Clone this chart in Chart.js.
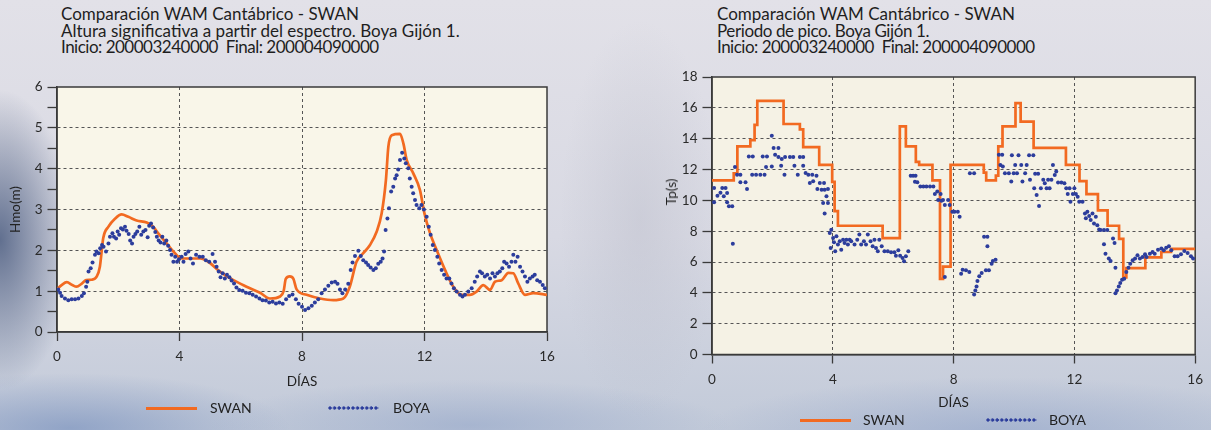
<!DOCTYPE html>
<html>
<head>
<meta charset="utf-8">
<script src="https://cdn.jsdelivr.net/npm/chart.js@4.4.1/dist/chart.umd.min.js"></script>
<style>
html,body{margin:0;padding:0;}
body{width:1211px;height:430px;overflow:hidden;position:relative;font-family:Lato,"Open Sans",sans-serif;color:#1c1c1c;
background:
 radial-gradient(75px 150px at 0px 240px, rgba(84,100,134,0.9), rgba(84,100,134,0)),
 radial-gradient(220px 55px at 70px 428px, rgba(112,138,186,0.6), rgba(112,138,186,0)),
 radial-gradient(260px 45px at 470px 425px, rgba(140,160,198,0.5), rgba(140,160,198,0)),
 radial-gradient(300px 55px at 1000px 432px, rgba(135,156,198,0.5), rgba(135,156,198,0)),
 radial-gradient(80px 200px at 640px 220px, rgba(180,182,196,0.35), rgba(180,182,196,0)),
 linear-gradient(to bottom, #e2e1e8 0%, #d8d9e3 55%, #c2cad9 100%);}
.title{position:absolute;font-size:17px;line-height:16.5px;white-space:nowrap;color:#1e1e1e;}
.title .l3{letter-spacing:-0.5px;}
.title .l2r{letter-spacing:-0.4px;}
canvas{position:absolute;}
.leg{position:absolute;font-size:14px;line-height:16px;color:#222;white-space:nowrap;}
.lline{position:absolute;height:3px;background:#f26a21;}
.ldots{position:absolute;height:4px;background-image:radial-gradient(circle at 2px 2px,#2c3d9c 1.4px,rgba(44,61,156,0) 1.9px);background-size:4.6px 4px;background-repeat:repeat-x;}
.ytitle{position:absolute;font-size:13.5px;line-height:16px;color:#222;white-space:nowrap;transform:translate(-50%,-50%) rotate(-90deg);}
</style>
</head>
<body>
<div class="title" style="left:61px;top:6px;">Comparación WAM Cantábrico - SWAN<br>Altura significativa a partir del espectro. Boya Gijón 1.<br><span class="l3">Inicio: 200003240000&nbsp;&nbsp;Final: 200004090000</span></div>
<div class="title" style="left:717px;top:6px;">Comparación WAM Cantábrico - SWAN<br><span class="l2r">Periodo de pico. Boya Gijón 1.</span><br><span class="l3">Inicio: 200003240000&nbsp;&nbsp;Final: 200004090000</span></div>

<canvas id="c1" width="600" height="330" style="left:0;top:70px;width:600px;height:330px;"></canvas>
<canvas id="c2" width="611" height="360" style="left:600px;top:60px;width:611px;height:360px;"></canvas>
<div class="ytitle" style="left:671px;top:192px;">Tp(s)</div>

<div class="lline" style="left:146px;top:407px;width:51px;"></div>
<div class="leg" style="left:210px;top:400px;">SWAN</div>
<div class="ldots" style="left:328px;top:406px;width:51px;"></div>
<div class="leg" style="left:393px;top:400px;">BOYA</div>

<div class="lline" style="left:800px;top:419px;width:51px;"></div>
<div class="leg" style="left:863px;top:412px;">SWAN</div>
<div class="ldots" style="left:986px;top:418px;width:51px;"></div>
<div class="leg" style="left:1049px;top:412px;">BOYA</div>

<script>
// ---------- DATA ----------
const xTicks = [0, 4, 8, 12, 16];
const hmoTicks = [0, 0.5, 1, 1.5, 2, 2.5, 3, 3.5, 4, 4.5, 5, 5.5, 6];
const tpTicks = [0, 2, 4, 6, 8, 10, 12, 14, 16, 18];

// SWAN Hmo (m)
const swanHmoDias = [0,0.15,0.32,0.5,0.64,0.8,0.95,1.13,1.3,1.4,1.51,1.68,1.9,2.11,2.33,2.6,2.93,3.14,3.3,3.58,3.8,4.07,4.34,4.67,4.94,5.32,5.76,6.19,6.63,6.95,7.28,7.4,7.47,7.6,7.72,7.82,8.15,8.59,9.02,9.35,9.56,9.78,10.0,10.22,10.44,10.6,10.74,10.82,10.93,11.2,11.31,11.42,11.63,11.85,12.0,12.18,12.4,12.67,12.94,13.21,13.48,13.7,13.92,14.14,14.3,14.52,14.74,14.9,15.06,15.28,15.55,16.0];
const swanHmo = [1.05,1.15,1.22,1.15,1.11,1.18,1.27,1.28,1.36,1.6,2.3,2.58,2.78,2.88,2.82,2.73,2.68,2.58,2.42,2.17,1.97,1.8,1.8,1.8,1.72,1.48,1.27,1.11,0.96,0.82,0.87,1.0,1.3,1.36,1.3,1.05,0.91,0.82,0.78,0.82,1.11,1.72,1.93,2.13,2.46,2.9,3.72,4.54,4.82,4.85,4.62,4.21,3.89,3.48,2.9,2.42,2.0,1.52,1.11,0.91,0.91,0.99,1.15,1.03,1.23,1.27,1.45,1.44,1.19,0.91,0.95,0.91];

// BOYA Hmo (m)
const boyaHmoDias = [0.04,0.10,0.15,0.26,0.37,0.48,0.59,0.70,0.81,0.88,0.95,0.99,1.03,1.10,1.16,1.24,1.29,1.36,1.41,1.47,1.52,1.60,1.68,1.73,1.81,1.86,1.93,1.98,2.03,2.09,2.15,2.22,2.27,2.34,2.39,2.45,2.50,2.56,2.62,2.69,2.75,2.82,2.89,2.96,3.01,3.07,3.14,3.21,3.26,3.32,3.38,3.44,3.50,3.57,3.63,3.69,3.74,3.80,3.86,3.92,3.98,4.07,4.13,4.20,4.29,4.36,4.44,4.54,4.65,4.76,4.86,4.97,5.08,5.16,5.21,5.28,5.34,5.41,5.48,5.55,5.63,5.70,5.78,5.86,5.95,6.06,6.17,6.28,6.39,6.50,6.61,6.71,6.82,6.93,7.04,7.15,7.26,7.37,7.48,7.58,7.69,7.80,7.89,8.00,8.10,8.21,8.32,8.42,8.53,8.64,8.75,8.86,8.97,9.08,9.16,9.24,9.32,9.41,9.51,9.59,9.65,9.73,9.84,9.92,10.00,10.09,10.16,10.24,10.33,10.41,10.49,10.57,10.63,10.68,10.73,10.79,10.84,10.91,10.98,11.04,11.09,11.14,11.20,11.27,11.34,11.39,11.47,11.52,11.58,11.63,11.69,11.74,11.83,11.90,11.98,12.07,12.14,12.20,12.27,12.34,12.42,12.48,12.56,12.64,12.72,12.81,12.88,12.96,13.05,13.16,13.24,13.32,13.43,13.54,13.64,13.72,13.81,13.88,13.97,14.05,14.14,14.22,14.30,14.38,14.46,14.54,14.60,14.68,14.76,14.84,14.90,14.97,15.04,15.12,15.20,15.28,15.36,15.44,15.53,15.60,15.68,15.77,15.86,15.93];
const boyaHmo = [1.04,0.96,0.88,0.82,0.78,0.80,0.80,0.82,0.88,0.95,1.11,1.23,1.48,1.56,1.70,1.89,1.97,1.93,2.05,2.13,2.09,1.97,2.17,2.33,2.42,2.33,2.29,2.46,2.38,2.54,2.51,2.58,2.48,2.40,2.24,2.17,2.33,2.40,2.46,2.58,2.38,2.46,2.50,2.32,2.60,2.66,2.56,2.45,2.33,2.24,2.19,2.33,2.17,2.24,2.11,2.01,1.89,1.72,1.84,1.72,1.78,1.84,1.72,1.91,1.97,1.80,1.68,1.89,1.84,1.84,1.76,1.72,1.91,1.72,1.60,1.48,1.34,1.44,1.31,1.40,1.34,1.26,1.19,1.09,1.03,1.01,0.96,0.95,0.91,0.87,0.82,0.78,0.77,0.72,0.74,0.70,0.72,0.69,0.80,0.88,0.92,0.80,0.69,0.62,0.54,0.58,0.64,0.72,0.80,0.95,1.04,1.13,1.21,1.23,1.18,1.04,0.95,1.04,1.18,1.52,1.70,1.86,1.99,1.86,1.76,1.70,1.64,1.58,1.52,1.56,1.67,1.72,1.80,1.97,2.50,2.78,3.03,3.44,3.56,3.76,3.84,3.98,4.21,4.39,4.25,4.13,4.01,3.76,3.56,3.40,3.23,3.11,3.03,3.11,3.00,2.82,2.58,2.38,2.13,2.01,1.84,1.68,1.52,1.40,1.31,1.31,1.19,1.07,0.99,0.91,0.87,0.91,0.99,1.07,1.23,1.36,1.48,1.44,1.36,1.40,1.31,1.44,1.36,1.44,1.48,1.56,1.72,1.68,1.60,1.72,1.89,1.72,1.84,1.60,1.48,1.36,1.23,1.31,1.36,1.40,1.27,1.23,1.15,1.07];

// SWAN Tp (s) - step changes (day where the level starts, level)
const swanTpDias = [0,0.72,0.84,1.27,1.41,1.5,2.37,2.91,3.02,3.55,3.98,4.06,4.17,5.65,6.22,6.42,6.75,6.86,7.3,7.55,7.65,7.9,9.0,9.08,9.4,9.48,9.62,10.05,10.22,10.65,11.72,12.17,12.4,12.78,13.1,13.48,13.62,13.72,14.35,14.88,15.2,16];
const swanTp = [11.3,11.75,13.5,13.9,14.9,16.45,14.95,14.6,13.45,12.3,11.2,9.3,8.35,7.55,14.8,13.5,12.5,12.3,11.3,4.9,5.7,12.3,11.8,11.3,11.6,13.5,14.8,16.3,15.1,13.4,12.3,11.25,10.4,9.35,8.35,7.5,5.0,5.6,6.3,6.65,6.85,6.85];

// BOYA Tp (s)
const boyaTpDias = [0.07,0.07,0.18,0.28,0.34,0.39,0.45,0.50,0.50,0.56,0.67,0.69,0.76,0.83,0.94,0.94,1.11,1.16,1.22,1.35,1.33,1.46,1.60,1.74,1.68,1.82,1.79,1.98,1.98,2.04,2.20,2.09,2.20,2.29,2.31,2.40,2.42,2.58,2.73,2.69,2.84,2.91,3.02,3.02,3.10,3.19,3.24,3.32,3.35,3.46,3.49,3.57,3.63,3.71,3.73,3.84,3.68,3.79,3.84,3.73,3.90,3.95,3.93,4.01,4.04,4.08,4.12,4.17,4.23,4.28,4.34,4.39,4.45,4.50,4.56,4.61,4.72,4.81,4.88,4.94,5.03,5.10,5.16,5.25,5.32,5.38,5.43,5.49,5.54,5.62,5.71,5.82,5.93,6.04,6.09,6.17,6.23,6.31,6.36,6.42,6.50,6.58,6.66,6.74,6.72,6.80,6.90,7.00,7.10,7.22,7.33,7.38,7.46,7.49,7.57,7.60,7.65,7.71,7.71,7.82,7.87,7.96,8.03,8.14,8.20,8.25,8.30,8.41,8.52,8.54,8.68,8.68,8.72,8.76,8.79,8.85,8.93,9.01,9.12,9.07,9.12,9.17,9.26,9.30,9.39,9.50,9.61,9.55,9.63,9.70,9.83,9.93,9.99,9.91,10.04,10.15,10.10,10.24,10.28,10.37,10.42,10.50,10.53,10.64,10.67,10.70,10.75,10.80,10.83,10.89,10.97,11.02,11.08,11.13,11.18,11.24,11.29,11.35,11.40,11.46,11.57,11.67,11.73,11.78,11.84,11.87,11.95,12.00,12.05,12.11,12.16,12.27,12.35,12.38,12.43,12.49,12.54,12.60,12.65,12.71,12.76,12.82,12.87,12.98,13.09,12.98,13.03,13.14,13.20,13.28,13.33,13.36,13.36,13.41,13.47,13.52,13.58,13.65,13.72,13.79,13.85,13.93,14.01,14.09,14.17,14.26,14.34,14.39,14.50,14.59,14.66,14.77,14.88,14.96,15.04,15.13,15.21,15.32,15.42,15.53,15.64,15.75,15.86,15.93];
const boyaTp = [10.8,9.87,10.3,10.5,10.8,10.26,10.8,10.48,9.87,9.61,9.61,7.19,12.16,11.66,11.66,11.17,11.17,10.73,12.85,12.85,11.66,11.66,11.66,11.66,12.85,12.85,12.16,14.19,12.2,13.39,13.39,12.96,12.81,12.25,12.68,11.66,12.81,12.81,12.25,12.81,11.66,12.81,12.81,12.25,11.77,11.66,11.12,11.66,11.23,11.6,10.73,11.12,10.69,11.12,10.69,10.73,9.83,10.26,9.83,9.14,7.88,8.10,6.91,7.56,7.28,6.70,7.67,7.13,7.34,6.80,7.45,7.24,7.45,7.13,7.45,7.34,7.13,7.45,7.78,7.13,7.34,7.13,7.78,7.34,7.02,7.45,6.91,6.70,7.45,7.02,6.70,6.70,6.63,6.63,6.41,6.76,6.41,6.26,6.05,6.37,6.70,11.6,11.6,11.6,11.2,11.17,10.9,10.9,10.9,10.9,10.9,10.41,10.57,10.02,10.41,9.98,10.02,9.7,5.02,10.02,9.7,9.26,9.26,9.26,8.93,5.24,5.5,5.46,5.35,11.76,11.76,3.89,4.15,4.41,4.76,5.07,5.28,7.63,7.63,5.46,7.02,5.46,5.89,6.07,6.15,12.96,12.96,12.3,12.2,11.76,11.76,12.93,11.76,11.22,12.3,12.93,11.76,12.3,11.22,11.76,12.3,12.93,11.33,12.93,10.78,11.72,10.35,11.72,9.63,10.78,11.33,11.11,10.78,11.33,10.78,11.33,12.3,11.65,11.87,11.15,11.15,11.11,10.78,10.41,10.78,9.91,10.41,10.78,10.41,10.24,9.91,9.91,9.15,8.83,9.26,8.98,8.72,9.15,8.50,8.93,8.39,8.11,8.07,8.07,8.07,7.15,6.54,6.22,6.07,7.52,7.24,5.63,3.98,4.15,4.41,4.63,4.85,4.91,5.35,5.63,5.89,6.11,6.22,6.43,6.22,6.33,6.50,6.33,6.54,6.65,6.54,6.80,6.87,6.76,6.93,7.02,6.76,6.37,6.37,6.50,6.72,6.59,6.37,6.22];

// ---------- STYLE ----------
const ORANGE = '#f26a21';
const BLUE = '#2c3d9c';
const AXIS = '#3a3a3a';
const GRID = '#555555';
const FONT = 'Lato, "Open Sans", sans-serif';
Chart.defaults.font.family = FONT;
Chart.defaults.color = '#2a2a2a';

const pts = (xs, ys) => xs.map((x, i) => ({x: x, y: ys[i]}));

const framePlugin = {
  id: 'frame',
  beforeDraw(chart, args, opts) {
    const a = chart.chartArea, c = chart.ctx;
    c.save(); c.fillStyle = opts.bg; c.fillRect(a.left, a.top, a.right - a.left, a.bottom - a.top); c.restore();
  },
  beforeDatasetsDraw(chart) {
    const a = chart.chartArea, c = chart.ctx;
    c.save(); c.strokeStyle = AXIS; c.lineWidth = 1.5;
    c.strokeRect(a.left, a.top, a.right - a.left, a.bottom - a.top); c.restore();
  }
};

function makeChart(id, cfg) {
  const tickFont = {size: 13.5, family: FONT};
  const titleFont = {size: 13.5, family: FONT};
  return new Chart(document.getElementById(id), {
    type: 'line',
    data: {
      datasets: [
        Object.assign({label: 'SWAN', data: pts(cfg.sx, cfg.sy), borderColor: ORANGE, borderWidth: 2.7,
          pointRadius: 0, fill: false, order: 2}, cfg.swanOpts),
        {label: 'BOYA', data: pts(cfg.bx, cfg.by), showLine: false, pointRadius: 2, pointHoverRadius: 2,
          pointBackgroundColor: BLUE, pointBorderWidth: 0, borderColor: BLUE, order: 1}
      ]
    },
    options: {
      responsive: false, animation: false, events: [],
      layout: {padding: {left: 0, top: cfg.padTop, right: cfg.padRight, bottom: 0}},
      plugins: {legend: {display: false}, tooltip: {enabled: false}, frame: {bg: cfg.plotBg}},
      scales: {
        x: {
          type: 'linear', min: 0, max: 16,
          afterBuildTicks: s => { s.ticks = xTicks.map(v => ({value: v})); },
          afterFit: s => { s.height = cfg.xHeight; },
          ticks: {font: tickFont, padding: 8, color: '#2a2a2a', maxRotation: 0},
          grid: {color: c => (c.tick && c.tick.value > 0 && c.tick.value < 16) ? GRID : 'rgba(0,0,0,0)',
                 lineWidth: 1, tickColor: AXIS, tickLength: 9, tickWidth: 1.3, borderDash: [3, 3]},
          border: {color: AXIS, width: 1.5, dash: [3, 3]},
          title: {display: true, text: 'DÍAS', font: titleFont, color: '#222', padding: {top: 0, bottom: cfg.xTitlePad}}
        },
        y: {
          type: 'linear', min: 0, max: cfg.ymax,
          afterBuildTicks: s => { s.ticks = cfg.yTicks.map(v => ({value: v})); },
          afterFit: s => { s.width = cfg.yWidth; },
          ticks: {font: tickFont, padding: 5, color: '#2a2a2a', callback: v => Number.isInteger(v) ? String(v) : ''},
          grid: {color: c => (c.tick && Number.isInteger(c.tick.value) && c.tick.value > 0 && c.tick.value < cfg.ymax && c.tick.value % cfg.gridStep === 0) ? GRID : 'rgba(0,0,0,0)',
                 lineWidth: 1, tickColor: AXIS, tickLength: 9.5, tickWidth: 1.3, borderDash: [3, 3]},
          border: {color: AXIS, width: 1.5, dash: [3, 3]},
          title: {display: cfg.yTitle !== '', text: cfg.yTitle, font: titleFont, color: '#222', padding: {top: cfg.yTitlePad, bottom: 0}}
        }
      }
    },
    plugins: [framePlugin]
  });
}

makeChart('c1', {
  sx: swanHmoDias, sy: swanHmo, bx: boyaHmoDias, by: boyaHmo,
  swanOpts: {cubicInterpolationMode: 'monotone', tension: 0.4},
  ymax: 6, yTicks: hmoTicks, gridStep: 1, yTitle: 'Hmo(m)', plotBg: '#f9f6e9',
  padTop: 17, padRight: 53, xHeight: 68, yWidth: 57, xTitlePad: 10.5, yTitlePad: 8
});

makeChart('c2', {
  sx: swanTpDias, sy: swanTp, bx: boyaTpDias, by: boyaTp,
  swanOpts: {stepped: true},
  ymax: 18, yTicks: tpTicks, gridStep: 2, yTitle: '', plotBg: '#f5f2e5',
  padTop: 17, padRight: 9, xHeight: 65.5, yWidth: 112, xTitlePad: 9.2, yTitlePad: 62
});
</script>
</body>
</html>
